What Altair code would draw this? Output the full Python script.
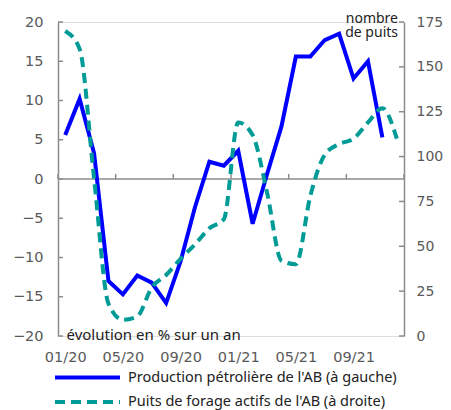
import altair as alt
import pandas as pd

# ---- data ----
months = ["01/20", "02/20", "03/20", "04/20", "05/20", "06/20", "07/20", "08/20",
          "09/20", "10/20", "11/20", "12/20", "01/21", "02/21", "03/21", "04/21",
          "05/21", "06/21", "07/21", "08/21", "09/21", "10/21", "11/21", "12/21"]
production = [5.6, 10.2, 3.3, -13.0, -14.7, -12.3, -13.2, -15.8, -10.5, -3.6, 2.2, 1.7,
              3.6, -5.7, 0.6, 6.7, 15.6, 15.6, 17.7, 18.5, 12.8, 15.0, 5.3]
rigs = [170, 160, 88, 18, 9, 11, 27, 34, 43, 51, 60, 65,
        119, 112, 80, 42, 40, 78, 101, 107, 110, 119, 127, 110]
left_ticks = [-20, -15, -10, -5, 0, 5, 10, 15, 20]
right_ticks = [0, 25, 50, 75, 100, 125, 150, 175]
x_label_idx = [0, 4, 8, 12, 16, 20]
x_boundaries = [-0.5, 3.5, 7.5, 11.5, 15.5, 19.5, 23.5]
series_names = ["Production pétrolière de l'AB (à gauche)",
                "Puits de forage actifs de l'AB (à droite)"]
left_note = "évolution en % sur un an"
right_note = ["nombre", "de puits"]

# ---- styling ----
W, H = 346, 314
BLUE = "#0000FF"
TEAL = "#009B96"
GRAY = "#8c8c8c"
LABEL_GRAY = "#595959"
TICK_FONT = "DejaVu Sans"
TEXT_FONT = "Noto Sans"
LEG_Y1, LEG_Y2 = 355.5, 380.0

prod_df = pd.DataFrame({"i": list(range(len(production))),
                        "month": months[:len(production)], "v": production})
rig_df = pd.DataFrame({"i": list(range(len(rigs))), "month": months, "v": rigs})

xscale = alt.Scale(domain=[-0.5, 23.5], nice=False, zero=False)
lscale = alt.Scale(domain=[-20, 20], nice=False, zero=False)
rscale = alt.Scale(domain=[0, 175], nice=False, zero=False)

label_expr = "[" + ",".join("'" + m + "'" for m in months) + "][datum.value]"

x_axis = alt.Axis(values=x_label_idx, labelExpr=label_expr, domain=False, ticks=False,
                  tickSize=0, grid=False, title=None, labelFont=TICK_FONT,
                  labelFontSize=14.5, labelColor=LABEL_GRAY, labelPadding=14,
                  labelFlush=False, labelOverlap=False)

left_axis = alt.Axis(orient="left", values=left_ticks, domain=True, domainColor=GRAY,
                     domainWidth=1.5, ticks=False, tickSize=0, grid=False, title=None,
                     labelFont=TICK_FONT, labelFontSize=14.5, labelColor=LABEL_GRAY,
                     labelPadding=15, labelFlush=False, labelOverlap=False)
right_axis = alt.Axis(orient="right", values=right_ticks, domain=True, domainColor=GRAY,
                      domainWidth=1.5, ticks=False, tickSize=0, grid=False, title=None,
                      labelFont=TICK_FONT, labelFontSize=14, labelColor=LABEL_GRAY,
                      labelPadding=12, labelFlush=False, labelOverlap=False)

# zero line with month-boundary ticks
zero_rule = alt.Chart(pd.DataFrame({"z": [0]})).mark_rule(color=GRAY, strokeWidth=1.5).encode(
    y=alt.Y("z:Q", scale=lscale, axis=left_axis),
    x=alt.value(0), x2=alt.value(W))
zero_ticks = alt.Chart(pd.DataFrame({"b": x_boundaries, "z": [0] * len(x_boundaries)})).mark_rule(
    color=GRAY, strokeWidth=1.5).encode(
    x=alt.X("b:Q", scale=xscale, axis=x_axis),
    y=alt.Y("z:Q", scale=lscale, axis=left_axis),
    y2=alt.value(H / 2 - 5))
left_tick_rules = alt.Chart(pd.DataFrame({"t": left_ticks})).mark_rule(
    color=GRAY, strokeWidth=1.5).encode(
    y=alt.Y("t:Q", scale=lscale, axis=left_axis), x=alt.value(0), x2=alt.value(5))

blue_line = alt.Chart(prod_df).mark_line(color=BLUE, strokeWidth=4, strokeJoin="miter").encode(
    x=alt.X("i:Q", scale=xscale, axis=x_axis),
    y=alt.Y("v:Q", scale=lscale, axis=left_axis))

teal_line = alt.Chart(rig_df).mark_line(color=TEAL, strokeWidth=4, strokeDash=[10, 6],
                                         interpolate="monotone").encode(
    x=alt.X("i:Q", scale=xscale, axis=x_axis),
    y=alt.Y("v:Q", scale=rscale, axis=right_axis))
right_tick_rules = alt.Chart(pd.DataFrame({"t": right_ticks})).mark_rule(
    color=GRAY, strokeWidth=1.5).encode(
    y=alt.Y("t:Q", scale=rscale, axis=right_axis), x=alt.value(W - 5), x2=alt.value(W))

# annotations
note_left = alt.Chart(pd.DataFrame({"t": [left_note]})).mark_text(
    font=TEXT_FONT, fontSize=15, color="#222222", align="left", baseline="alphabetic").encode(
    text="t:N", x=alt.value(8.5), y=alt.value(317.5))
note_right = alt.Chart(pd.DataFrame({"t": [0]})).mark_text(
    text=right_note, font=TEXT_FONT, fontSize=14, color="#222222", align="right",
    baseline="alphabetic", lineHeight=14).encode(
    x=alt.value(340), y=alt.value(1))

# manual legend
leg_blue = alt.Chart(pd.DataFrame({"t": [0]})).mark_rule(color=BLUE, strokeWidth=4).encode(
    x=alt.value(-3), x2=alt.value(62), y=alt.value(LEG_Y1))
leg_teal = alt.Chart(pd.DataFrame({"t": [0]})).mark_rule(
    color=TEAL, strokeWidth=4, strokeDash=[10, 6]).encode(
    x=alt.value(-3), x2=alt.value(62), y=alt.value(LEG_Y2))
leg_text = alt.Chart(pd.DataFrame({"name": series_names, "row": [0, 1]})).mark_text(
    font=TEXT_FONT, fontSize=14.5, color="#222222", align="left", baseline="middle").encode(
    text="name:N", x=alt.value(70),
    y=alt.Y("row:Q", scale=alt.Scale(domain=[0, 1], range=[LEG_Y1, LEG_Y2]), axis=None))

left_group = alt.layer(zero_rule, zero_ticks, left_tick_rules, blue_line)
right_group = alt.layer(teal_line, right_tick_rules)
legend_group = alt.layer(leg_blue, leg_teal, leg_text, note_left, note_right)

chart = alt.layer(left_group, right_group, legend_group).resolve_scale(
    y="independent").properties(
    width=W, height=H,
    padding={"left": 50, "top": 14, "right": 39, "bottom": 76},
    autosize=alt.AutoSizeParams(type="none"),
).configure_view(stroke=None).configure(background="white")

chart.save("out.html", embed_options={"renderer": "svg", "actions": False})
